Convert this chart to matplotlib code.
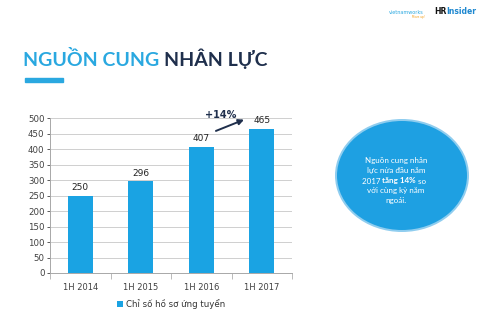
import numpy as np
import matplotlib.pyplot as plt
from matplotlib.patches import Ellipse, Rectangle

# data
categories = ['1H 2014', '1H 2015', '1H 2016', '1H 2017']
values = [250, 296, 407, 465]
series_name = 'Chỉ số hồ sơ ứng tuyển'
yticks = [0, 50, 100, 150, 200, 250, 300, 350, 400, 450, 500]
growth_label = '+14%'

bar_blue = '#1AA3E3'
title_blue = '#2AA8E0'
navy = '#1F2F4C'
text_gray = '#404040'

W, H = 480, 326
fig = plt.figure(figsize=(W / 100, H / 100), dpi=100)
fig.patch.set_facecolor('white')

# title
t1 = fig.text(23 / W, 1 - 66 / H, 'NGUỒN CUNG ', color=title_blue, fontsize=14,
              family='Lato', weight='bold', ha='left', va='baseline')
fig.canvas.draw()
fig.text(t1.get_window_extent().x1 / W, 1 - 66 / H, 'NHÂN LỰC', color=navy, fontsize=14,
         family='Lato', weight='bold', ha='left', va='baseline')
fig.patches.append(Rectangle((25 / W, 1 - 82 / H), 38 / W, 4 / H, color=title_blue,
                             transform=fig.transFigure, figure=fig))

# logos as text
fig.text(389 / W, 1 - 13 / H, 'vietnamworks', color=title_blue, fontsize=3.5,
         family='DejaVu Sans', ha='left', va='center')
fig.text(418 / W, 1 - 17 / H, 'Move up!', color='#F39C12', fontsize=2,
         family='DejaVu Sans', ha='center', va='center')
hr = fig.text(434 / W, 1 - 12 / H, 'HR', color='#111111', fontsize=5.5,
              family='DejaVu Sans', weight='bold', ha='left', va='center')
fig.canvas.draw()
fig.text(hr.get_window_extent().x1 / W, 1 - 12 / H, 'Insider', color='#1E88D0',
         fontsize=5.5, family='DejaVu Sans', weight='bold', ha='left', va='center')

# bar chart
ax = fig.add_axes([50 / W, 1 - 273 / H, 242 / W, 155 / H])
x = np.arange(len(categories))
bars = ax.bar(x, values, width=0.42, color=bar_blue, zorder=3, label=series_name)
ax.set_xlim(-0.5, len(categories) - 0.5)
ax.set_ylim(0, 500)
ax.set_yticks(yticks)
ax.tick_params(axis='y', labelsize=6.2, colors=text_gray, length=2, width=0.6, pad=2)
ax.set_xticks(x)
ax.set_xticklabels(categories)
ax.set_xticks(np.arange(len(categories) + 1) - 0.5, minor=True)
ax.tick_params(axis='x', which='major', length=0, labelsize=6, colors=text_gray, pad=7)
ax.tick_params(axis='x', which='minor', length=4, width=0.6, color='#B0B0B0')
ax.grid(axis='y', color='#CFCFCF', linewidth=0.7, zorder=0)
for s in ['top', 'right']:
    ax.spines[s].set_visible(False)
for s in ['left', 'bottom']:
    ax.spines[s].set_color('#A8A8A8')
    ax.spines[s].set_linewidth(0.7)

for xi, v in zip(x, values):
    ax.text(xi, v + 12, str(v), ha='center', va='bottom', fontsize=6.5, color='#222222')

# growth arrow between the last two bars
ax.annotate('', xy=(x[3] - 0.25, values[3] + 33), xytext=(x[2] + 0.2, values[2] + 48),
            arrowprops=dict(arrowstyle='-|>', color=navy, lw=1.4, mutation_scale=8),
            annotation_clip=False)
ax.text(x[2] + 0.32, values[3] + 45, growth_label, ha='center', va='center',
        fontsize=7, weight='bold', color=navy, clip_on=False)

ax.legend(loc='upper center', bbox_to_anchor=(0.5, -0.12), frameon=False, fontsize=6.2,
          handlelength=0.7, handleheight=0.7, handletextpad=0.3, labelcolor='#333333')

# circle note
fig.patches.append(Ellipse((402 / W, 1 - 175.5 / H), 134 / W, 113 / H,
                           facecolor='#8FCDEF', edgecolor='none',
                           transform=fig.transFigure, figure=fig))
fig.patches.append(Ellipse((402 / W, 1 - 175.5 / H), 130 / W, 109 / H,
                           facecolor='#1EA0E2', edgecolor='none',
                           transform=fig.transFigure, figure=fig))
fs = 5.8
note_kw = dict(color='white', fontsize=fs, family='Lato', ha='center', va='center')
fig.text(396 / W, 1 - 160 / H, 'Nguồn cung nhân', **note_kw)
fig.text(396 / W, 1 - 171 / H, 'lực nửa đầu năm', **note_kw)
mid = fig.text(399 / W, 1 - 181 / H, 'tăng 14%', color='white', fontsize=fs,
               family='Lato', weight='bold', ha='center', va='center')
fig.canvas.draw()
bb = mid.get_window_extent()
fig.text(bb.x0 / W, 1 - 181 / H, '2017 ', color='white', fontsize=fs, family='Lato',
         ha='right', va='center')
fig.text(bb.x1 / W, 1 - 181 / H, ' so', color='white', fontsize=fs, family='Lato',
         ha='left', va='center')
fig.text(396 / W, 1 - 191 / H, 'với cùng kỳ năm', **note_kw)
fig.text(396 / W, 1 - 201 / H, 'ngoái.', **note_kw)

fig.savefig('out.png', dpi=100, facecolor='white')
